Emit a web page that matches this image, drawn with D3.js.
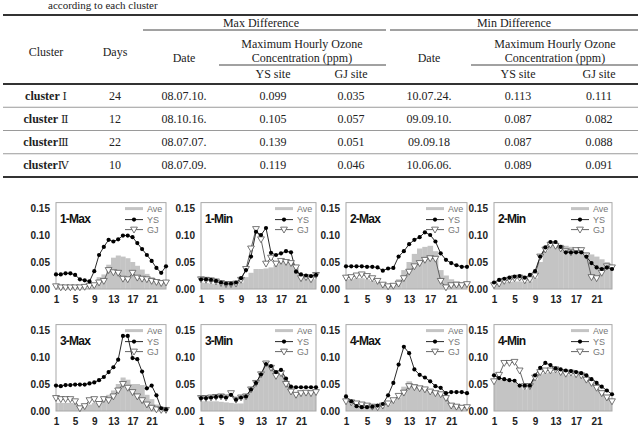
<!DOCTYPE html>
<html><head><meta charset="utf-8">
<script src="https://cdn.jsdelivr.net/npm/d3@7/dist/d3.min.js"></script>
<style>body{margin:0;background:#fff}svg{display:block}</style>
</head><body>
<svg id="c" width="639" height="433"></svg>
<script>
// ---------- table data ----------
const clusters = ["Ⅰ","Ⅱ","Ⅲ","Ⅳ"];
const clusterGap = [" "," ","",""];
const days = ["24","12","22","10"];
const maxDate = ["08.07.10.","08.10.16.","08.07.07.","08.07.09."];
const maxYS = ["0.099","0.105","0.139","0.119"];
const maxGJ = ["0.035","0.057","0.051","0.046"];
const minDate = ["10.07.24.","09.09.10.","09.09.18","10.06.06."];
const minYS = ["0.113","0.087","0.087","0.089"];
const minGJ = ["0.111","0.082","0.088","0.091"];

// ---------- chart data ----------
const hours = [1,2,3,4,5,6,7,8,9,10,11,12,13,14,15,16,17,18,19,20,21,22,23,24];
const xTicks = [1,5,9,13,17,21];
const yTicks = [0,0.05,0.10,0.15];
const panelNames = ["1-Max","1-Min","2-Max","2-Min","3-Max","3-Min","4-Max","4-Min"];
const legendNames = ["Ave","YS","GJ"];

const ave1Max = [0.002,0.002,0.002,0.002,0.002,0.002,0.002,0.003,0.008,0.022,0.027,0.045,0.058,0.062,0.060,0.057,0.050,0.043,0.036,0.028,0.022,0.017,0.013,0.010];
const ys1Max  = [0.027,0.027,0.029,0.029,0.026,0.018,0.016,0.014,0.033,0.063,0.078,0.091,0.088,0.092,0.099,0.099,0.096,0.085,0.074,0.063,0.052,0.039,0.030,0.042];
const gj1Max  = [0.005,0.003,0.003,0.003,0.003,0.003,0.004,0.006,0.007,0.012,0.015,0.035,0.031,0.030,0.019,0.018,0.030,0.021,0.019,0.018,0.015,0.013,0.011,0.012];

const ave1Min = [0.012,0.011,0.010,0.009,0.008,0.007,0.007,0.008,0.012,0.022,0.030,0.037,0.037,0.038,0.040,0.045,0.050,0.050,0.048,0.040,0.025,0.020,0.018,0.018];
const ys1Min  = [0.018,0.018,0.017,0.015,0.012,0.010,0.010,0.012,0.020,0.035,0.060,0.106,0.100,0.113,0.067,0.063,0.066,0.070,0.068,0.032,0.027,0.025,0.024,0.026];
const gj1Min  = [0.018,0.017,0.016,0.014,0.011,0.009,0.009,0.010,0.017,0.037,0.075,0.111,0.092,0.047,0.058,0.047,0.052,0.050,0.048,0.040,0.020,0.022,0.018,0.026];

const ave2Max = [0.018,0.018,0.020,0.020,0.018,0.015,0.012,0.008,0.006,0.008,0.018,0.035,0.050,0.065,0.075,0.078,0.080,0.070,0.035,0.025,0.018,0.014,0.012,0.012];
const ys2Max  = [0.042,0.042,0.042,0.042,0.041,0.041,0.040,0.034,0.038,0.039,0.060,0.070,0.083,0.091,0.096,0.105,0.100,0.088,0.066,0.054,0.048,0.044,0.041,0.041];
const gj2Max  = [0.021,0.022,0.025,0.027,0.024,0.020,0.015,0.008,0.005,0.006,0.010,0.020,0.032,0.042,0.048,0.054,0.057,0.056,0.015,0.003,0.007,0.008,0.007,0.009];

const ave2Min = [0.008,0.010,0.012,0.013,0.014,0.014,0.013,0.014,0.020,0.050,0.070,0.080,0.083,0.082,0.080,0.078,0.075,0.072,0.068,0.064,0.060,0.055,0.050,0.045];
const ys2Min  = [0.012,0.017,0.019,0.021,0.023,0.024,0.021,0.026,0.033,0.060,0.077,0.087,0.087,0.078,0.068,0.068,0.068,0.068,0.060,0.048,0.040,0.037,0.040,0.037];
const gj2Min  = [0.007,0.010,0.015,0.017,0.020,0.021,0.016,0.018,0.025,0.060,0.073,0.082,0.080,0.075,0.070,0.068,0.072,0.072,0.062,0.022,0.020,0.030,0.042,0.040];

const ave3Max = [0.015,0.015,0.015,0.015,0.014,0.010,0.010,0.012,0.015,0.018,0.022,0.030,0.038,0.050,0.062,0.058,0.050,0.050,0.048,0.030,0.022,0.012,0.008,0.005];
const ys3Max  = [0.047,0.046,0.048,0.048,0.049,0.049,0.049,0.051,0.053,0.057,0.063,0.072,0.081,0.095,0.139,0.139,0.098,0.096,0.073,0.042,0.047,0.029,0.005,0.003];
const gj3Max  = [0.024,0.022,0.022,0.022,0.018,0.005,0.009,0.020,0.022,0.013,0.022,0.020,0.027,0.038,0.050,0.043,0.035,0.027,0.020,0.012,0.006,0.003,0.002,0.002];

const ave3Min = [0.018,0.018,0.018,0.018,0.017,0.016,0.015,0.014,0.014,0.026,0.038,0.050,0.066,0.084,0.082,0.072,0.068,0.055,0.042,0.035,0.032,0.032,0.033,0.033];
const ys3Min  = [0.024,0.024,0.025,0.026,0.027,0.025,0.030,0.021,0.025,0.027,0.040,0.052,0.068,0.087,0.083,0.072,0.076,0.060,0.045,0.044,0.044,0.044,0.044,0.044];
const gj3Min  = [0.024,0.024,0.025,0.026,0.027,0.025,0.033,0.021,0.025,0.027,0.040,0.052,0.068,0.088,0.080,0.065,0.070,0.050,0.036,0.030,0.033,0.034,0.033,0.035];

const ave4Max = [0.015,0.013,0.012,0.010,0.008,0.006,0.006,0.008,0.012,0.018,0.025,0.045,0.055,0.050,0.045,0.042,0.038,0.034,0.030,0.025,0.012,0.008,0.006,0.006];
const ys4Max  = [0.027,0.018,0.009,0.007,0.007,0.008,0.010,0.013,0.029,0.052,0.086,0.119,0.107,0.077,0.067,0.062,0.055,0.046,0.043,0.033,0.035,0.035,0.035,0.033];
const gj4Max  = [0.018,0.016,0.014,0.012,0.010,0.008,0.007,0.010,0.014,0.020,0.028,0.034,0.046,0.044,0.042,0.040,0.036,0.033,0.031,0.024,0.010,0.008,0.006,0.007];

const ave4Min = [0.055,0.058,0.058,0.055,0.052,0.048,0.040,0.045,0.058,0.068,0.070,0.072,0.072,0.070,0.068,0.066,0.065,0.063,0.058,0.052,0.045,0.038,0.030,0.022];
const ys4Min  = [0.066,0.061,0.059,0.057,0.056,0.047,0.047,0.047,0.066,0.080,0.089,0.085,0.079,0.077,0.075,0.074,0.072,0.070,0.066,0.059,0.052,0.045,0.038,0.031];
const gj4Min  = [0.055,0.067,0.089,0.089,0.091,0.075,0.046,0.046,0.062,0.072,0.075,0.075,0.077,0.072,0.069,0.071,0.068,0.066,0.058,0.052,0.043,0.033,0.025,0.018];

const panelData = [
  [ave1Max, ys1Max, gj1Max], [ave1Min, ys1Min, gj1Min],
  [ave2Max, ys2Max, gj2Max], [ave2Min, ys2Min, gj2Min],
  [ave3Max, ys3Max, gj3Max], [ave3Min, ys3Min, gj3Min],
  [ave4Max, ys4Max, gj4Max], [ave4Min, ys4Min, gj4Min]
];

// ---------- drawing ----------
const svg = d3.select("#c");
const serif = "'Liberation Serif','Times New Roman',serif";
const sans = "'Liberation Sans',Arial,sans-serif";
const ink = "#222";

// caption remnant at top
svg.append("text").attr("x", 48).attr("y", 9)
  .attr("font-family", serif).attr("font-size", 11).attr("fill", ink)
  .text("according to each cluster");

// table
const T = svg.append("g").attr("font-family", serif).attr("font-size", 12).attr("fill", ink);
const colX = {cluster:46, days:115, maxDate:184, maxYS:273, maxGJ:351, minDate:429, minYS:518, minGJ:599};
function hline(y, x1, x2, w, c){ T.append("line").attr("x1",x1).attr("x2",x2).attr("y1",y).attr("y2",y).attr("stroke",c).attr("stroke-width",w); }
function txt(x, y, s){ return T.append("text").attr("x",x).attr("y",y).attr("text-anchor","middle").attr("dominant-baseline","central").text(s); }

hline(15, 3, 638, 2, "#333");
txt(261, 23, "Max Difference");
txt(514, 23, "Min Difference");
hline(30, 143, 386, 1, "#444");
hline(30, 390, 638, 1, "#444");
txt(colX.cluster, 52, "Cluster");
txt(colX.days, 52, "Days");
txt(colX.maxDate, 58, "Date");
txt(colX.minDate, 58, "Date");
txt(302, 44, "Maximum Hourly Ozone");
txt(302, 58, "Concentration (ppm)");
txt(555, 44, "Maximum Hourly Ozone");
txt(555, 58, "Concentration (ppm)");
hline(65, 219, 386, 1, "#444");
hline(65, 471, 638, 1, "#444");
txt(colX.maxYS, 74, "YS site");
txt(colX.maxGJ, 74, "GJ site");
txt(colX.minYS, 74, "YS site");
txt(colX.minGJ, 74, "GJ site");
hline(84, 3, 638, 2, "#333");

const rowY = d3.scaleBand().domain(clusters).range([84, 177]);
clusters.forEach((c, i) => {
  const cy = rowY(c) + rowY.bandwidth()/2;
  const t = txt(colX.cluster, cy, null);
  t.append("tspan").attr("font-weight","bold").text("cluster" + clusterGap[i]);
  t.append("tspan").attr("font-family", "'DejaVu Serif',serif").attr("font-size", 11).text(c);
  txt(colX.days, cy, days[i]);
  txt(colX.maxDate, cy, maxDate[i]);
  txt(colX.maxYS, cy, maxYS[i]);
  txt(colX.maxGJ, cy, maxGJ[i]);
  txt(colX.minDate, cy, minDate[i]);
  txt(colX.minYS, cy, minYS[i]);
  txt(colX.minGJ, cy, minGJ[i]);
  if (i < clusters.length - 1) hline(rowY(c) + rowY.bandwidth(), 3, 638, 1, "#9a9a9a");
});
hline(177, 3, 638, 2, "#333");

// panels
const lefts = [56, 201, 346, 494];
const rights = [166, 316, 467, 612];
const bottoms = [289, 411];
const grayFill = "#c4c4c4";
const gjColor = "#555";

panelNames.forEach((name, p) => {
  const col = p % 4, row = Math.floor(p / 4);
  const L = lefts[col], R = rights[col], B = bottoms[row];
  const x = d3.scaleLinear().domain([1, 24]).range([L, R]);
  const y = d3.scaleLinear().domain([0, 0.16]).range([B, B - 86.4]);
  const [ave, ys, gj] = panelData[p];
  const g = svg.append("g");
  const clipId = "clip" + p;
  g.append("clipPath").attr("id", clipId).append("rect")
    .attr("x", L).attr("y", y(0.16)).attr("width", R - L).attr("height", B - y(0.16));
  const w = x(2) - x(1);
  g.append("g").attr("clip-path", `url(#${clipId})`).selectAll("rect").data(hours).join("rect")
    .attr("x", h => x(h) - w/2).attr("width", w + 0.3)
    .attr("y", (h, i) => y(ave[i])).attr("height", (h, i) => B - y(ave[i]))
    .attr("fill", grayFill);
  // box
  g.append("rect").attr("x", L).attr("y", y(0.16)).attr("width", R - L).attr("height", B - y(0.16))
    .attr("fill", "none").attr("stroke", "#a8a8a8").attr("stroke-width", 1);
  // GJ line
  const line = arr => d3.line().x((h, i) => x(h)).y((h, i) => y(arr[i]))(hours);
  g.append("path").attr("d", line(gj)).attr("fill", "none").attr("stroke", gjColor).attr("stroke-width", 0.9);
  // YS line
  g.append("path").attr("d", line(ys)).attr("fill", "none").attr("stroke", "#111").attr("stroke-width", 0.9);
  // GJ triangles
  const tri = d3.symbol().type(d3.symbolTriangle).size(20);
  g.selectAll(".gj").data(hours).join("path")
    .attr("transform", (h, i) => `translate(${x(h)},${y(gj[i]) - 0.5}) rotate(180)`)
    .attr("d", tri).attr("fill", "#fff").attr("stroke", gjColor).attr("stroke-width", 0.8);
  // YS circles
  g.selectAll(".ys").data(hours).join("circle")
    .attr("cx", h => x(h)).attr("cy", (h, i) => y(ys[i])).attr("r", 2.1).attr("fill", "#000");
  // axes
  const ya = g.append("g").attr("transform", `translate(${L},0)`)
    .call(d3.axisLeft(y).tickValues(yTicks).tickFormat(d3.format(".2f")).tickSize(0).tickPadding(6));
  ya.select(".domain").remove();
  ya.selectAll("text").attr("font-family", sans).attr("font-weight", "bold").attr("font-size", 10).attr("fill", ink);
  const xa = g.append("g").attr("transform", `translate(0,${B})`)
    .call(d3.axisBottom(x).tickValues(xTicks).tickFormat(d3.format("d")).tickSize(0).tickPadding(7));
  xa.select(".domain").remove();
  xa.selectAll("text").attr("font-family", sans).attr("font-weight", "bold").attr("font-size", 10).attr("fill", ink);
  // title
  g.append("text").attr("x", L + 4).attr("y", y(0.16) + 16).attr("dominant-baseline", "central")
    .attr("font-family", sans).attr("font-weight", "bold").attr("font-size", 12)
    .attr("letter-spacing", -0.8).attr("fill", "#111").text(name);
  // legend
  const top = y(0.16);
  const lg = g.append("g").attr("font-family", sans).attr("font-size", 9).attr("fill", "#777");
  const lys = [top + 6, top + 17, top + 27];
  lg.append("line").attr("x1", R - 41).attr("x2", R - 23).attr("y1", lys[0]).attr("y2", lys[0])
    .attr("stroke", grayFill).attr("stroke-width", 3);
  lg.append("line").attr("x1", R - 41).attr("x2", R - 23).attr("y1", lys[1]).attr("y2", lys[1])
    .attr("stroke", "#111").attr("stroke-width", 0.9);
  lg.append("circle").attr("cx", R - 32).attr("cy", lys[1]).attr("r", 2.1).attr("fill", "#000");
  lg.append("line").attr("x1", R - 41).attr("x2", R - 23).attr("y1", lys[2]).attr("y2", lys[2])
    .attr("stroke", gjColor).attr("stroke-width", 0.9);
  lg.append("path").attr("transform", `translate(${R - 32},${lys[2] - 0.5}) rotate(180)`)
    .attr("d", tri).attr("fill", "#fff").attr("stroke", gjColor).attr("stroke-width", 0.8);
  legendNames.forEach((n, i) => {
    lg.append("text").attr("x", R - 19).attr("y", lys[i]).attr("dominant-baseline", "central").text(n);
  });
});
</script>
</body></html>
